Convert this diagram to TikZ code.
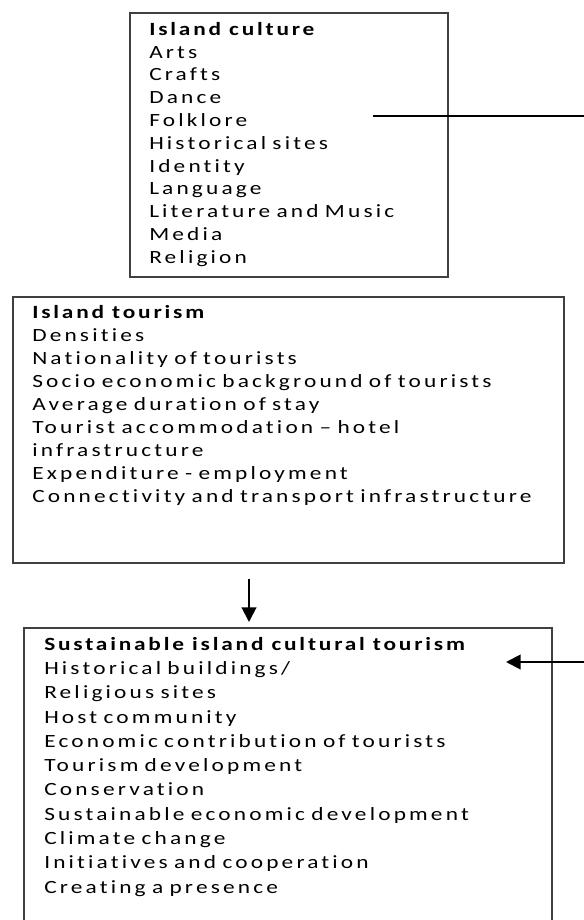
\documentclass[tikz,border=0pt]{standalone}
\usepackage{fontspec}
\setmainfont{Carlito}
\newfontfamily\itemfont{Carlito}[FakeStretch=1.25,LetterSpace=17,WordSpace=0.75,Ligatures=NoCommon]
\newfontfamily\headfont{Carlito Bold}[FakeStretch=1.25,LetterSpace=15,Ligatures=NoCommon]
\usetikzlibrary{arrows.meta}

\begin{document}
\begin{tikzpicture}[x=0.75pt,y=-0.75pt,
  box/.style={draw=black!75,line width=1.3pt,anchor=north west,inner sep=0pt},
  list/.style={anchor=north west,align=left,inner sep=0pt,font=\itemfont\fontsize{14pt}{#1}\selectfont},
  link/.style={line width=1.5pt},
  arrow/.style={link,-{Triangle[length=11pt,width=11pt]}}]
% three boxes, one below the other
\clip (0,0) rectangle (584,920);
\node[box,minimum width=238.5pt,minimum height=198pt] (culture) at (129,12) {};
\node[list=17.1pt] (culturelist) at (149,22) {{\headfont Island culture}\\
  Arts\\ Crafts\\ Dance\\ Folklore\\ Historical sites\\ Identity\\
  Language\\ Literature and Music\\ Media\\ Religion};

\node[box,minimum width=413.25pt,minimum height=199.5pt] (tourism) at (12,296) {};
\node[list=17.25pt] (tourismlist) at (32,305) {{\headfont Island tourism}\\
  Densities\\ Nationality of tourists\\
  Socio economic background of tourists\\ Average duration of stay\\
  Tourist accommodation – hotel\\ infrastructure\\
  Expenditure - employment\\ Connectivity and transport infrastructure};

\node[box,minimum width=396pt,minimum height=223.5pt] (sustain) at (23,627) {};
\node[list=18.2pt] (sustainlist) at (44,637) {{\headfont Sustainable island cultural tourism}\\
  Historical buildings/\\ Religious sites\\ Host community\\
  Economic contribution of tourists\\ Tourism development\\ Conservation\\
  Sustainable economic development\\ Climate change\\
  Initiatives and cooperation\\ Creating a presence};

% connectors
\coordinate (culturein) at (373,116);
\coordinate (cultureout) at (584,116);
\draw[link] (culturein) -- (cultureout);
\coordinate (tourismout) at (249,579);
\coordinate (sustaintop) at (249,622);
\draw[arrow] (tourismout) -- (sustaintop);
\coordinate (sustainin) at (584,662);
\coordinate (sustainright) at (506,662);
\draw[arrow] (sustainin) -- (sustainright);
\end{tikzpicture}
\end{document}
